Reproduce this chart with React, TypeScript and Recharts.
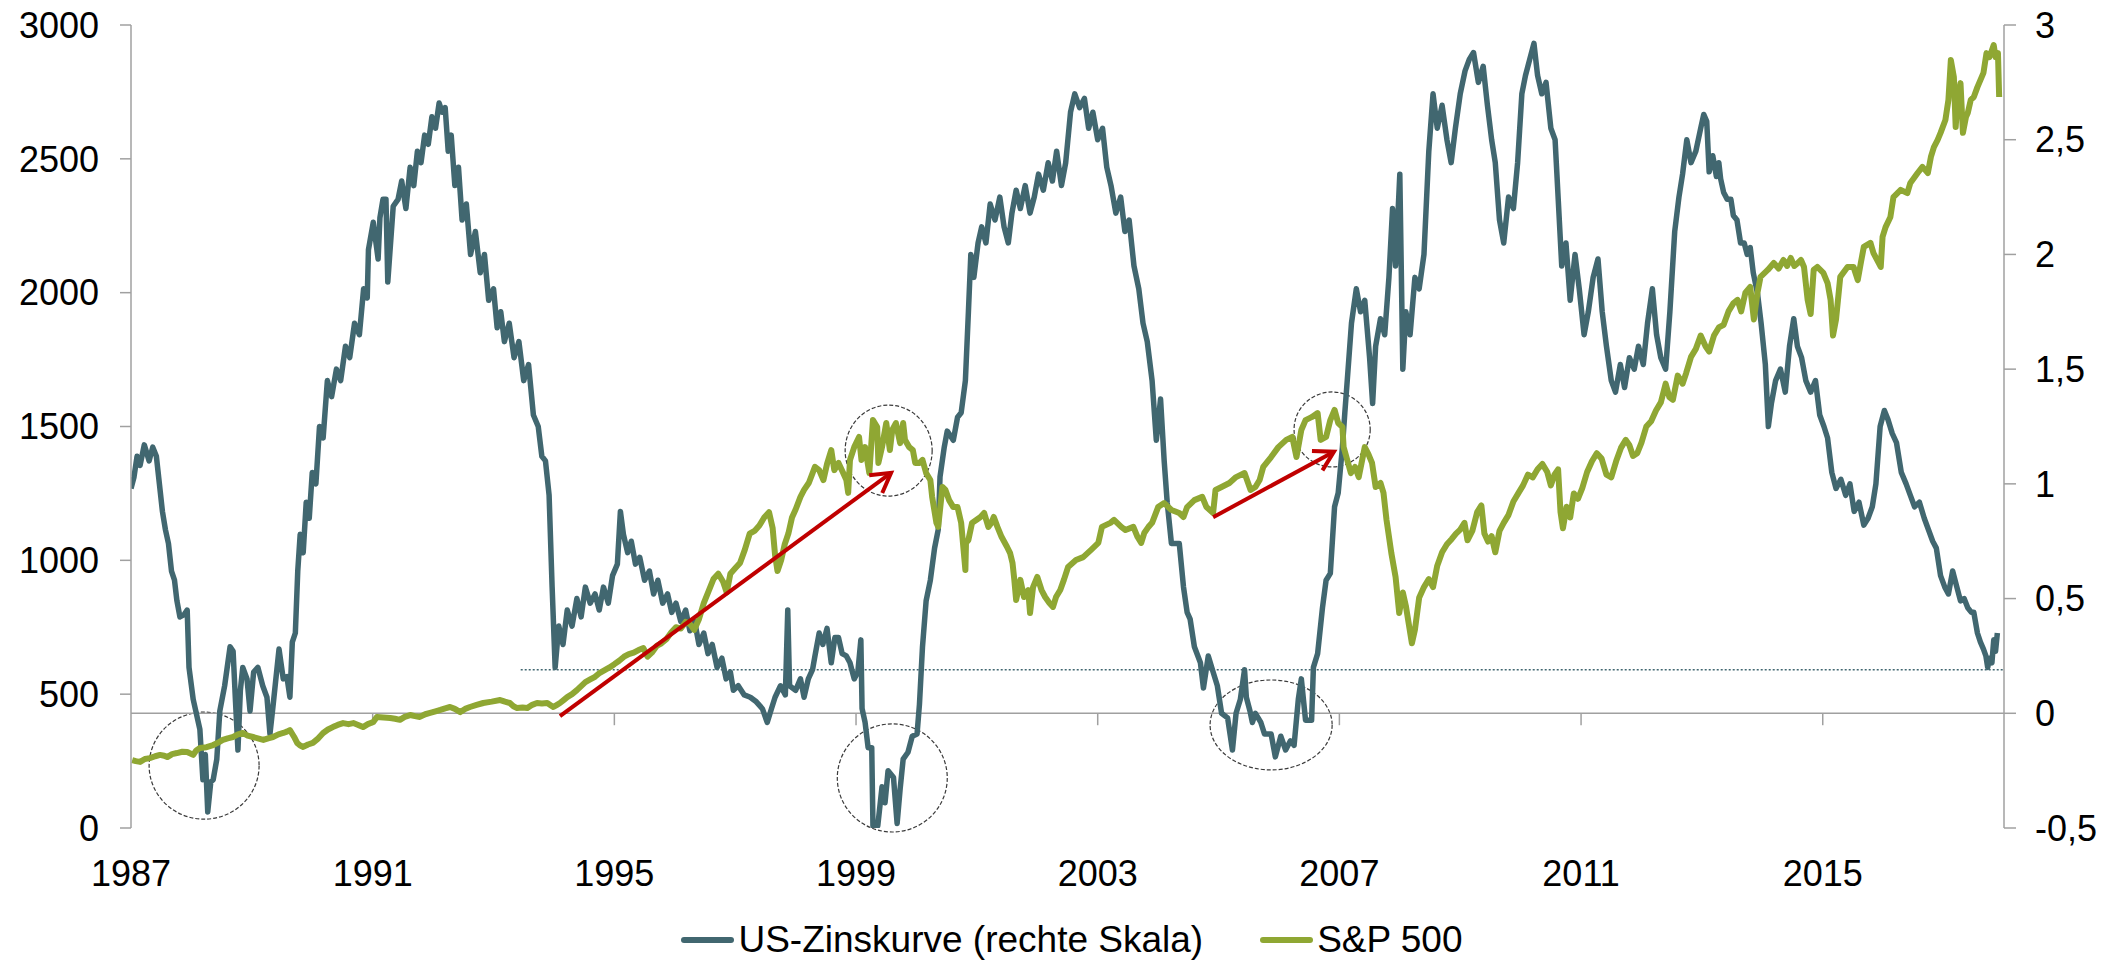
import React from 'react';
import { LineChart, Line, XAxis, YAxis, ReferenceLine, ReferenceArea, Legend } from 'recharts';

const FONT = '"Liberation Sans", Arial, Helvetica, sans-serif';
const TEAL = '#416770';
const OLIVE = '#8fa733';
const GRID = '#a0a0a0';

const yearTicks = [1987, 1991, 1995, 1999, 2003, 2007, 2011, 2015];
const leftTicks = [0, 500, 1000, 1500, 2000, 2500, 3000];
const rightTicks = [-0.5, 0, 0.5, 1, 1.5, 2, 2.5, 3];
const legendOrder = ['zins', 'spx'];

// US-Zinskurve (right scale): [year, value]
const zinsPoints: [number, number][] = [
  [1987.00,0.98],[1987.05,1.03],[1987.10,1.12],[1987.15,1.08],[1987.22,1.17],[1987.30,1.10],[1987.36,1.16],[1987.42,1.12],[1987.47,1.00],[1987.52,0.88],[1987.57,0.80],[1987.62,0.74],[1987.67,0.62],[1987.72,0.58],[1987.76,0.49],[1987.81,0.42],[1987.88,0.43],[1987.93,0.45],[1987.96,0.20],[1988.03,0.06],[1988.14,-0.07],[1988.19,-0.29],[1988.23,-0.18],[1988.27,-0.43],[1988.32,-0.30],[1988.36,-0.29],[1988.42,-0.20],[1988.47,0.01],[1988.55,0.12],[1988.64,0.29],[1988.69,0.27],[1988.73,0.05],[1988.77,-0.16],[1988.81,0.10],[1988.85,0.20],[1988.92,0.15],[1988.97,0.01],[1989.03,0.18],[1989.10,0.20],[1989.18,0.12],[1989.25,0.07],[1989.30,-0.09],[1989.35,0.03],[1989.45,0.28],[1989.52,0.15],[1989.58,0.16],[1989.63,0.07],[1989.67,0.31],[1989.72,0.35],
  [1989.76,0.62],[1989.80,0.78],[1989.85,0.70],[1989.90,0.92],[1989.95,0.85],[1990.00,1.05],[1990.06,1.00],[1990.12,1.25],[1990.18,1.20],[1990.25,1.45],[1990.32,1.38],[1990.40,1.50],[1990.47,1.45],[1990.55,1.60],[1990.62,1.55],[1990.70,1.70],[1990.78,1.65],[1990.85,1.85],[1990.91,1.81],[1990.93,2.02],[1991.01,2.14],[1991.09,1.98],[1991.12,2.16],[1991.17,2.24],[1991.22,2.24],[1991.25,1.88],[1991.34,2.21],[1991.42,2.24],[1991.48,2.32],[1991.55,2.20],[1991.62,2.38],[1991.68,2.30],[1991.74,2.45],[1991.80,2.40],[1991.86,2.52],[1991.92,2.48],[1991.98,2.60],[1992.04,2.55],[1992.10,2.66],[1992.15,2.62],[1992.20,2.64],[1992.25,2.45],[1992.30,2.52],[1992.36,2.30],[1992.42,2.38],[1992.48,2.15],[1992.55,2.22],[1992.62,2.00],[1992.70,2.10],[1992.78,1.92],[1992.85,2.00],[1992.92,1.80],[1993.00,1.85],[1993.06,1.68],[1993.12,1.75],[1993.18,1.62],[1993.26,1.70],[1993.34,1.55],[1993.42,1.62],[1993.50,1.45],[1993.58,1.52],[1993.66,1.30],[1993.74,1.25],[1993.80,1.12],[1993.86,1.10],[1993.92,0.95],[1993.97,0.55],
  [1994.02,0.20],[1994.08,0.38],[1994.15,0.30],[1994.22,0.45],[1994.30,0.38],[1994.38,0.50],[1994.45,0.42],[1994.52,0.55],[1994.60,0.48],[1994.68,0.52],[1994.75,0.45],[1994.82,0.55],[1994.90,0.48],[1994.97,0.60],[1995.05,0.65],[1995.10,0.88],[1995.15,0.78],[1995.22,0.70],[1995.28,0.75],[1995.35,0.65],[1995.42,0.68],[1995.50,0.58],[1995.58,0.62],[1995.65,0.52],[1995.72,0.58],[1995.80,0.48],[1995.88,0.52],[1995.95,0.44],[1996.02,0.48],[1996.10,0.40],[1996.18,0.45],[1996.25,0.36],[1996.33,0.40],[1996.40,0.30],[1996.48,0.35],[1996.55,0.26],[1996.62,0.30],[1996.70,0.20],[1996.78,0.24],[1996.85,0.15],[1996.92,0.18],[1996.97,0.10],
  [1997.05,0.12],[1997.15,0.08],[1997.25,0.07],[1997.35,0.05],[1997.45,0.02],[1997.53,-0.04],[1997.60,0.02],[1997.66,0.07],[1997.75,0.12],[1997.83,0.08],[1997.87,0.45],[1997.90,0.12],[1998.00,0.10],[1998.08,0.15],[1998.14,0.07],[1998.21,0.15],[1998.28,0.19],[1998.32,0.25],[1998.39,0.35],[1998.45,0.30],[1998.52,0.37],[1998.59,0.22],[1998.65,0.33],[1998.71,0.33],[1998.77,0.26],[1998.84,0.25],[1998.90,0.22],[1998.97,0.15],[1999.03,0.18],[1999.08,0.32],[1999.10,0.02],[1999.15,-0.04],[1999.20,-0.15],[1999.26,-0.15],[1999.28,-0.49],[1999.36,-0.49],[1999.43,-0.32],[1999.48,-0.39],[1999.53,-0.25],[1999.62,-0.28],[1999.68,-0.48],[1999.73,-0.33],[1999.78,-0.20],[1999.86,-0.17],[1999.93,-0.10],[2000.01,-0.09],[2000.05,0.04],[2000.10,0.29],[2000.16,0.49],[2000.23,0.58],[2000.30,0.72],[2000.36,0.80],[2000.39,1.03],[2000.46,1.16],[2000.51,1.23],[2000.61,1.19],[2000.68,1.29],[2000.74,1.31],[2000.81,1.45],[2000.86,1.75],
  [2000.90,2.00],[2000.95,1.90],[2001.02,2.05],[2001.08,2.12],[2001.15,2.05],[2001.22,2.22],[2001.30,2.15],[2001.38,2.25],[2001.45,2.12],[2001.52,2.05],[2001.58,2.18],[2001.65,2.28],[2001.72,2.20],[2001.80,2.30],[2001.88,2.18],[2001.95,2.25],[2002.02,2.35],[2002.10,2.28],[2002.18,2.40],[2002.25,2.32],[2002.32,2.45],[2002.40,2.30],[2002.47,2.40],[2002.55,2.62],[2002.62,2.70],[2002.70,2.64],[2002.78,2.68],[2002.85,2.55],[2002.92,2.62],[2003.00,2.50],[2003.08,2.55],[2003.15,2.38],[2003.22,2.30],[2003.30,2.18],[2003.38,2.25],[2003.45,2.10],[2003.52,2.15],[2003.60,1.95],[2003.68,1.85],[2003.75,1.70],[2003.82,1.62],[2003.90,1.45],[2003.97,1.19],[2004.04,1.37],[2004.10,1.10],[2004.15,0.92],[2004.22,0.74],[2004.35,0.74],[2004.42,0.55],[2004.48,0.44],[2004.53,0.41],[2004.60,0.29],[2004.70,0.22],[2004.75,0.11],[2004.83,0.25],[2004.91,0.18],[2004.98,0.12],[2005.05,0.00],[2005.15,-0.02],[2005.23,-0.16],[2005.29,0.00],[2005.36,0.06],[2005.43,0.19],[2005.46,0.07],[2005.52,0.01],[2005.56,-0.04],[2005.61,0.00],[2005.70,-0.04],[2005.76,-0.09],[2005.87,-0.09],[2005.94,-0.19],[2006.03,-0.10],[2006.11,-0.16],[2006.19,-0.12],[2006.25,-0.14],[2006.32,0.06],[2006.37,0.15],[2006.44,-0.03],[2006.54,-0.03],[2006.57,0.20],[2006.64,0.26],[2006.72,0.46],[2006.78,0.58],[2006.85,0.61],[2006.92,0.90],[2006.98,0.96],[2007.05,1.16],[2007.09,1.31],[2007.13,1.45],
  [2007.20,1.70],[2007.28,1.85],[2007.35,1.75],[2007.42,1.80],[2007.50,1.55],[2007.55,1.35],[2007.60,1.60],[2007.68,1.72],[2007.75,1.65],[2007.82,1.90],[2007.88,2.20],[2007.93,1.95],[2008.00,2.35],[2008.05,1.50],[2008.10,1.75],[2008.17,1.65],[2008.25,1.90],[2008.32,1.85],[2008.40,2.00],[2008.48,2.45],[2008.55,2.70],[2008.62,2.55],[2008.70,2.65],[2008.78,2.50],[2008.85,2.40],[2008.92,2.55],[2009.00,2.70],[2009.08,2.80],[2009.15,2.85],[2009.22,2.88],[2009.30,2.75],[2009.38,2.82],[2009.45,2.65],[2009.52,2.50],[2009.58,2.40],[2009.65,2.15],[2009.72,2.05],[2009.80,2.25],[2009.88,2.20],[2009.95,2.40],[2010.02,2.70],[2010.08,2.78],[2010.15,2.85],[2010.22,2.92],[2010.28,2.78],[2010.35,2.70],[2010.42,2.75],[2010.50,2.55],[2010.57,2.50],[2010.63,2.20],[2010.68,1.95],[2010.75,2.05],[2010.82,1.80],[2010.90,2.00],[2010.97,1.85],[2011.05,1.65],[2011.12,1.75],[2011.20,1.90],[2011.28,1.98],[2011.35,1.75],[2011.42,1.60],[2011.50,1.45],[2011.57,1.40],[2011.65,1.52],[2011.72,1.42],[2011.80,1.55],[2011.88,1.50],[2011.95,1.60],[2012.03,1.52],[2012.10,1.70],[2012.18,1.85],[2012.25,1.65],[2012.32,1.55],[2012.40,1.50],[2012.47,1.75],[2012.55,2.10],[2012.62,2.25],[2012.68,2.35],[2012.75,2.50],[2012.82,2.40],[2012.90,2.45],[2012.98,2.55],[2013.03,2.61],[2013.08,2.58],[2013.12,2.36],[2013.18,2.43],[2013.24,2.34],[2013.28,2.40],[2013.31,2.33],[2013.36,2.27],[2013.42,2.24],[2013.48,2.24],[2013.52,2.17],[2013.58,2.15],[2013.64,2.05],[2013.70,2.05],[2013.75,2.00],[2013.80,2.03],[2013.85,1.92],[2013.92,1.83],[2013.98,1.70],[2014.05,1.52],[2014.10,1.25],[2014.15,1.35],[2014.22,1.45],[2014.30,1.50],[2014.38,1.40],[2014.45,1.60],[2014.52,1.72],[2014.58,1.60],[2014.65,1.55],[2014.72,1.45],[2014.80,1.40],[2014.88,1.45],[2014.95,1.30],[2015.02,1.25],[2015.08,1.20],[2015.15,1.05],[2015.22,0.98],[2015.30,1.02],[2015.38,0.95],[2015.45,1.00],[2015.52,0.88],[2015.60,0.92],[2015.68,0.82],[2015.75,0.85],[2015.82,0.90],[2015.88,1.00],[2015.95,1.25],[2016.02,1.32],[2016.08,1.28],[2016.15,1.22],[2016.22,1.18],[2016.30,1.05],[2016.38,1.00],[2016.45,0.95],[2016.52,0.90],[2016.60,0.92],[2016.68,0.85],[2016.75,0.80],[2016.82,0.75],[2016.88,0.72],[2016.95,0.60],[2017.02,0.55],[2017.08,0.52],[2017.15,0.62],[2017.22,0.55],[2017.28,0.49],[2017.34,0.50],[2017.40,0.46],[2017.46,0.44],[2017.50,0.44],[2017.56,0.35],[2017.61,0.31],[2017.66,0.28],[2017.70,0.25],[2017.73,0.20],[2017.76,0.24],[2017.80,0.22],[2017.83,0.32],[2017.86,0.27],[2017.89,0.35],
];

// S&P 500 (left scale): [year, value]
const spxPoints: [number, number][] = [
  [1987.02,254],[1987.08,250],[1987.15,247],[1987.23,258],[1987.31,261],[1987.40,268],[1987.48,273],[1987.55,270],[1987.60,265],[1987.68,276],[1987.76,280],[1987.85,285],[1987.93,284],[1988.03,273],[1988.08,290],[1988.14,299],[1988.25,302],[1988.36,310],[1988.45,320],[1988.52,329],[1988.60,335],[1988.69,340],[1988.77,350],[1988.85,355],[1988.93,345],[1989.02,340],[1989.10,335],[1989.19,329],[1989.27,335],[1989.35,340],[1989.44,350],[1989.52,355],[1989.58,360],[1989.63,366],[1989.70,340],[1989.75,318],[1989.80,308],[1989.85,303],[1989.93,312],[1990.01,318],[1990.10,335],[1990.18,355],[1990.26,368],[1990.34,377],[1990.42,385],[1990.51,392],[1990.60,388],[1990.68,392],[1990.76,385],[1990.84,377],[1990.92,388],[1991.01,396],[1991.07,415],[1991.18,413],[1991.29,411],[1991.37,408],[1991.45,404],[1991.53,415],[1991.62,422],[1991.70,418],[1991.78,415],[1991.87,425],[1991.95,430],[1992.04,436],[1992.12,441],[1992.20,447],[1992.28,452],[1992.36,445],[1992.45,433],[1992.53,445],[1992.61,452],[1992.72,460],[1992.83,467],[1992.97,472],[1993.11,478],[1993.19,472],[1993.27,467],[1993.33,455],[1993.39,448],[1993.48,450],[1993.56,448],[1993.64,460],[1993.72,467],[1993.80,465],[1993.89,467],[1993.95,458],[1993.99,452],[1994.05,460],[1994.10,467],[1994.16,478],[1994.22,489],[1994.30,500],[1994.38,515],
  [1994.45,530],[1994.52,545],[1994.60,555],[1994.68,565],[1994.76,580],[1994.84,590],[1994.92,600],[1995.00,612],[1995.08,625],[1995.16,640],[1995.24,650],[1995.32,655],[1995.40,665],[1995.48,672],[1995.55,640],[1995.62,655],[1995.70,680],[1995.78,690],[1995.86,705],[1995.94,730],[1996.02,750],[1996.10,745],[1996.18,770],[1996.26,760],[1996.32,740],[1996.40,780],[1996.48,840],[1996.56,885],[1996.64,930],[1996.72,950],[1996.80,920],[1996.86,880],[1996.92,950],[1997.00,970],[1997.08,990],[1997.16,1040],[1997.24,1100],[1997.32,1110],[1997.40,1130],[1997.48,1160],[1997.56,1180],[1997.62,1120],[1997.66,1020],[1997.70,960],[1997.76,1000],[1997.82,1060],[1997.88,1100],[1997.94,1160],[1998.00,1190],
  [1998.08,1237],[1998.14,1263],[1998.22,1290],[1998.32,1349],[1998.39,1337],[1998.46,1300],[1998.52,1360],[1998.59,1412],[1998.64,1337],[1998.71,1364],[1998.78,1330],[1998.84,1300],[1998.87,1252],[1998.90,1375],[1998.97,1423],[1999.05,1461],[1999.09,1375],[1999.15,1423],[1999.22,1326],[1999.28,1524],[1999.35,1498],[1999.37,1364],[1999.43,1423],[1999.50,1513],[1999.56,1412],[1999.60,1487],[1999.66,1513],[1999.73,1438],[1999.78,1513],[1999.81,1450],[1999.88,1423],[1999.94,1412],[1999.98,1364],[2000.05,1364],[2000.10,1375],[2000.16,1326],[2000.23,1300],[2000.26,1237],[2000.33,1140],[2000.36,1125],[2000.43,1274],[2000.48,1263],[2000.54,1225],[2000.61,1199],[2000.68,1199],[2000.74,1140],[2000.81,964],[2000.82,1065],[2000.86,1076],[2000.92,1140],[2000.99,1151],[2001.06,1162],[2001.12,1177],[2001.19,1125],[2001.24,1140],[2001.28,1162],[2001.34,1125],[2001.41,1087],[2001.50,1050],[2001.55,1027],[2001.59,990],[2001.62,927],[2001.65,852],[2001.72,927],[2001.78,863],[2001.85,889],[2001.88,803],[2001.93,900],[2002.00,938],[2002.07,889],[2002.13,863],[2002.20,841],[2002.26,826],[2002.31,863],[2002.38,889],[2002.44,927],[2002.51,975],[2002.64,1001],[2002.76,1012],[2002.89,1039],[2003.01,1065],[2003.07,1125],[2003.21,1140],[2003.27,1151],[2003.39,1125],[2003.46,1113],[2003.59,1125],[2003.66,1087],[2003.72,1065],[2003.77,1102],[2003.84,1125],[2003.90,1140],[2004.00,1199],[2004.10,1214],[2004.22,1188],[2004.35,1177],[2004.42,1162],[2004.48,1199],[2004.60,1225],[2004.73,1237],[2004.80,1199],[2004.91,1177],[2004.95,1263],[2005.05,1274],[2005.18,1289],[2005.29,1311],[2005.43,1326],[2005.53,1263],[2005.61,1274],[2005.68,1300],[2005.74,1349],[2005.87,1386],[2005.99,1423],[2006.12,1450],[2006.22,1461],[2006.29,1386],[2006.37,1487],[2006.44,1524],[2006.54,1535],[2006.64,1550],[2006.69,1450],[2006.78,1461],[2006.85,1524],[2006.92,1562],[2006.98,1513],[2007.05,1498],[2007.07,1423],[2007.13,1375],[2007.19,1326],[2007.26,1349],[2007.32,1311],[2007.42,1423],[2007.48,1397],[2007.54,1364],[2007.60,1274],[2007.68,1289],[2007.73,1252],[2007.78,1151],[2007.86,1027],[2007.93,938],[2007.99,803],
  [2008.05,880],[2008.10,830],[2008.15,760],[2008.20,690],[2008.25,740],[2008.32,860],[2008.40,900],[2008.48,930],[2008.55,900],[2008.62,980],[2008.70,1030],[2008.78,1060],[2008.86,1080],[2008.93,1100],[2009.00,1115],[2009.07,1140],[2009.12,1075],[2009.20,1110],[2009.28,1180],[2009.35,1205],[2009.40,1100],[2009.46,1070],[2009.52,1090],[2009.58,1030],[2009.65,1110],[2009.72,1140],[2009.80,1170],[2009.88,1220],[2009.96,1250],[2010.04,1280],[2010.12,1320],[2010.20,1310],[2010.28,1340],[2010.36,1360],[2010.44,1330],[2010.50,1280],[2010.56,1320],[2010.62,1340],[2010.66,1180],[2010.70,1120],[2010.76,1200],[2010.82,1160],[2010.88,1250],[2010.95,1230],[2011.02,1270],[2011.10,1330],[2011.18,1370],[2011.26,1400],[2011.34,1380],[2011.42,1320],[2011.50,1310],[2011.58,1370],[2011.66,1420],[2011.74,1450],[2011.80,1430],[2011.86,1390],[2011.93,1400],[2012.00,1440],[2012.08,1500],[2012.16,1520],[2012.24,1560],[2012.32,1590],[2012.40,1660],[2012.46,1610],[2012.52,1600],[2012.60,1690],[2012.68,1660],[2012.74,1700],[2012.82,1760],[2012.90,1790],[2012.98,1840],[2013.06,1800],[2013.12,1780],[2013.20,1840],[2013.28,1870],[2013.36,1880],[2013.44,1930],[2013.52,1960],[2013.59,1973],[2013.65,1930],[2013.72,2000],[2013.80,2021],[2013.86,1900],[2013.92,2000],[2013.97,2059],[2014.09,2085],[2014.19,2111],[2014.27,2090],[2014.35,2122],[2014.41,2100],[2014.47,2130],[2014.53,2100],[2014.59,2111],[2014.64,2122],[2014.69,2096],[2014.75,1973],[2014.80,1920],[2014.85,2085],[2014.91,2096],[2015.01,2074],[2015.08,2036],[2015.13,1973],[2015.17,1840],[2015.22,1900],[2015.29,2059],[2015.41,2096],[2015.51,2096],[2015.58,2047],[2015.63,2111],[2015.68,2171],[2015.79,2186],[2015.84,2148],[2015.96,2096],[2015.99,2208],[2016.04,2245],[2016.12,2283],[2016.17,2357],[2016.29,2384],[2016.40,2372],[2016.45,2410],[2016.57,2447],[2016.65,2470],[2016.74,2447],[2016.79,2507],[2016.84,2544],[2016.90,2570],[2016.95,2597],[2017.03,2645],[2017.08,2720],[2017.12,2869],[2017.17,2806],[2017.20,2619],[2017.23,2720],[2017.28,2783],[2017.32,2597],[2017.37,2656],[2017.40,2671],[2017.45,2720],[2017.50,2731],[2017.56,2768],[2017.66,2821],[2017.71,2895],[2017.76,2880],[2017.83,2925],[2017.86,2880],[2017.90,2895],[2017.92,2731],
];

// Annotation circles (left-scale units) and arrows
const circles = [
  { x1: 1987.30, x2: 1989.12, y1: 33, y2: 433 },
  { x1: 1998.69, x2: 2000.51, y1: -15, y2: 389 },
  { x1: 1998.82, x2: 2000.26, y1: 1240, y2: 1580 },
  { x1: 2004.86, x2: 2006.88, y1: 217, y2: 553 },
  { x1: 2006.25, x2: 2007.51, y1: 1349, y2: 1629 },
];
const arrows = [
  { fromX: 1994.10, fromY: 418, toX: 1999.58, toY: 1327 },
  { fromX: 2004.91, fromY: 1161, toX: 2006.91, toY: 1406 },
];
const dottedLevel = 0.19;
const dottedStart = 1993.45;

const zinsData = zinsPoints.map(([t, v]) => ({ t, zins: v }));
const spxData = spxPoints.map(([t, v]) => ({ t, spx: v }));

const fmtRight = (v: number) => String(v).replace('.', ',');

const EllipseShape = (p: any) => {
  const { x, y, width, height } = p;
  if (x == null || y == null) return null;
  return (
    <ellipse
      cx={x + width / 2}
      cy={y + height / 2}
      rx={Math.abs(width) / 2}
      ry={Math.abs(height) / 2}
      fill="none"
      stroke="#3a3a3a"
      strokeWidth={1.2}
      strokeDasharray="4 2"
    />
  );
};

const ArrowShape = (p: any) => {
  const { x1, y1, x2, y2 } = p;
  if ([x1, y1, x2, y2].some((v) => v == null || isNaN(v))) return null;
  const ang = Math.atan2(y2 - y1, x2 - x1);
  const L = 22;
  const a = Math.PI / 6;
  const ax = x2 - L * Math.cos(ang - a);
  const ay = y2 - L * Math.sin(ang - a);
  const bx = x2 - L * Math.cos(ang + a);
  const by = y2 - L * Math.sin(ang + a);
  return (
    <g stroke="#c00000" strokeWidth={4} fill="none">
      <line x1={x1} y1={y1} x2={x2} y2={y2} />
      <polyline points={`${ax},${ay} ${x2},${y2} ${bx},${by}`} strokeLinejoin="miter" />
    </g>
  );
};

const renderLegend = (props: any) => {
  const raw = (props && props.payload) || [];
  const payload = [...raw].sort(
    (a: any, b: any) => legendOrder.indexOf(a.dataKey) - legendOrder.indexOf(b.dataKey)
  );
  return (
    <div
      style={{
        display: 'flex',
        justifyContent: 'center',
        alignItems: 'center',
        height: 46,
        marginTop: 14,
        paddingLeft: 32,
        fontFamily: FONT,
        fontSize: 37,
        color: '#000',
        whiteSpace: 'nowrap',
      }}
    >
      {payload.map((e: any, i: number) => (
        <div key={i} style={{ display: 'flex', alignItems: 'center', marginRight: i < payload.length - 1 ? 57 : 0 }}>
          <span style={{ display: 'inline-block', width: 53, height: 6, background: e.color, marginRight: 4, borderRadius: 3 }} />
          <span>{e.value}</span>
        </div>
      ))}
    </div>
  );
};

export default function App() {
  const tickStyle = { fontSize: 36, fill: '#000', fontFamily: FONT };
  return (
    <div style={{ position: 'absolute', left: 0, top: 0, width: 2112, height: 963, background: '#fff', fontFamily: FONT }}>
      <LineChart width={2112} height={963} margin={{ top: 25, right: 0, bottom: 0, left: 0 }}>
        <XAxis
          type="number"
          dataKey="t"
          domain={[1987, 2018]}
          ticks={yearTicks}
          interval={0}
          allowDataOverflow
          axisLine={false}
          tickLine={false}
          tickSize={0}
          tickMargin={32}
          height={75}
          tick={tickStyle}
        />
        <YAxis
          yAxisId="left"
          orientation="left"
          width={131}
          domain={[0, 3000]}
          ticks={leftTicks}
          interval={0}
          allowDataOverflow
          axisLine={{ stroke: GRID, strokeWidth: 1.5 }}
          tickLine={{ stroke: GRID, strokeWidth: 1.5 }}
          tickSize={11}
          tickMargin={21}
          tick={tickStyle}
        />
        <YAxis
          yAxisId="right"
          orientation="right"
          width={108}
          domain={[-0.5, 3]}
          ticks={rightTicks}
          interval={0}
          allowDataOverflow
          tickFormatter={fmtRight}
          axisLine={{ stroke: GRID, strokeWidth: 1.5 }}
          tickLine={{ stroke: GRID, strokeWidth: 1.5 }}
          tickSize={12}
          tickMargin={19}
          tick={tickStyle}
        />
        <Legend verticalAlign="bottom" align="center" height={60} content={renderLegend} />
        <ReferenceLine yAxisId="right" y={0} stroke={GRID} strokeWidth={1.5} />
        {yearTicks.slice(1).map((yr) => (
          <ReferenceLine
            key={`tk${yr}`}
            yAxisId="right"
            segment={[{ x: yr, y: 0 }, { x: yr, y: -0.052 }]}
            stroke={GRID}
            strokeWidth={1.5}
          />
        ))}
        <ReferenceLine
          yAxisId="right"
          segment={[{ x: dottedStart, y: dottedLevel }, { x: 2018, y: dottedLevel }]}
          stroke={TEAL}
          strokeWidth={1.5}
          strokeDasharray="2 2"
        />
        <Line
          data={zinsData}
          dataKey="zins"
          name="US-Zinskurve (rechte Skala)"
          yAxisId="right"
          type="linear"
          stroke={TEAL}
          strokeWidth={5.5}
          strokeLinejoin="round"
          dot={false}
          activeDot={false}
          isAnimationActive={false}
        />
        <Line
          data={spxData}
          dataKey="spx"
          name="S&P 500"
          yAxisId="left"
          type="linear"
          stroke={OLIVE}
          strokeWidth={6}
          strokeLinejoin="round"
          dot={false}
          activeDot={false}
          isAnimationActive={false}
        />
        {circles.map((c, i) => (
          <ReferenceArea
            key={`c${i}`}
            yAxisId="left"
            x1={c.x1}
            x2={c.x2}
            y1={c.y1}
            y2={c.y2}
            ifOverflow="visible"
            shape={EllipseShape}
          />
        ))}
        {arrows.map((a, i) => (
          <ReferenceLine
            key={`a${i}`}
            yAxisId="left"
            segment={[{ x: a.fromX, y: a.fromY }, { x: a.toX, y: a.toY }]}
            ifOverflow="visible"
            shape={ArrowShape}
          />
        ))}
      </LineChart>
    </div>
  );
}
